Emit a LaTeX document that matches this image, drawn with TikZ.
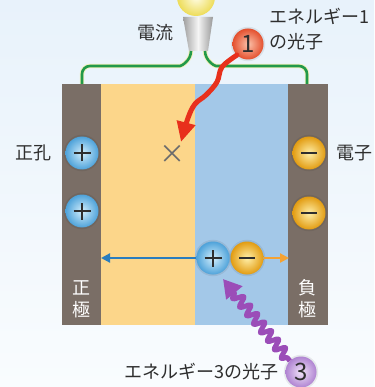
\documentclass[tikz,border=0pt]{standalone}
\usepackage{fontspec}
\setmainfont{Noto Sans CJK JP}
\usetikzlibrary{arrows.meta,decorations.pathmorphing}
\definecolor{bgtop}{HTML}{E8F2FB}
\definecolor{bgbot}{HTML}{F9FCFE}
\definecolor{electrode}{HTML}{7A6E66}
\definecolor{player}{HTML}{FCD68A}
\definecolor{nlayer}{HTML}{A3C8E8}
\definecolor{wire}{HTML}{22994A}
\definecolor{wirehalo}{HTML}{F3F0B8}
\definecolor{ink}{HTML}{2E2E2E}
\definecolor{holein}{HTML}{D2EEFC}
\definecolor{holeout}{HTML}{4FA3DA}
\definecolor{elin}{HTML}{FFEFA8}
\definecolor{elout}{HTML}{E29C12}
\definecolor{redin}{HTML}{FBC2AA}
\definecolor{redout}{HTML}{E4502E}
\definecolor{redwave}{HTML}{E8301C}
\definecolor{purin}{HTML}{F1E4F9}
\definecolor{purout}{HTML}{B084D2}
\definecolor{purwave}{HTML}{9B4DB8}
\definecolor{bluearrow}{HTML}{2A7DBE}
\definecolor{orangearrow}{HTML}{F4A232}
\definecolor{bulbin}{HTML}{FFFDE6}
\definecolor{bulbout}{HTML}{EDDC58}
\begin{document}
\begin{tikzpicture}[x=1pt,y=-1pt,
  every node/.style={text=ink, font=\fontsize{18}{20}\selectfont},
  particle/.style={circle, minimum size=33pt, inner sep=0pt, shading=radial,
    font=\fontsize{24}{24}\selectfont,
    preaction={fill=black, fill opacity=0.07, draw=black, draw opacity=0.07, line width=3.5pt}},
  plussign/.style={path picture={
    \draw[ink, line width=1.7pt] ([xshift=-8.5pt]path picture bounding box.center) -- ([xshift=8.5pt]path picture bounding box.center);
    \draw[ink, line width=1.7pt] ([yshift=-8.5pt]path picture bounding box.center) -- ([yshift=8.5pt]path picture bounding box.center);}},
  minussign/.style={path picture={
    \draw[ink, line width=1.9pt] ([xshift=-8pt]path picture bounding box.center) -- ([xshift=8pt]path picture bounding box.center);}},
  hole/.style={particle, plussign, inner color=holein, outer color=holeout},
  electron/.style={particle, minussign, inner color=elin, outer color=elout},
  photonone/.style={particle, minimum size=31pt, inner color=redin, outer color=redout},
  photonthree/.style={particle, minimum size=31pt, inner color=purin, outer color=purout},
  wirepath/.style={line width=2.6pt, draw=wire},
  halopath/.style={line width=4.4pt, draw=wirehalo},
  electrodetext/.style={text=white, align=center, font=\fontsize{18}{22}\selectfont}
]
% background
\shade[top color=bgtop, bottom color=bgbot] (0,0) rectangle (374,387);
\useasboundingbox (0,0) rectangle (374,387);

% cell layers
\fill[electrode] (62,84) rectangle (101,325);
\fill[player] (101,84) rectangle (195,325);
\fill[nlayer] (195,84) rectangle (288,325);
\fill[electrode] (288,84) rectangle (328,325);

% light bulb
\shade[inner color=bulbin, outer color=bulbout] (196,-3) circle (19);
\shade[left color=gray!75, right color=gray!80, middle color=gray!8]
  (183,17) -- (213,17) -- (208,51) -- (189,51) -- cycle;

% wires from the electrodes to the bulb
\coordinate (lampL) at (191,51);
\coordinate (lampR) at (205,51);
\coordinate (padL) at (82,84);
\coordinate (padR) at (307,84);
\foreach \s in {halopath, wirepath}{
  \draw[\s, rounded corners=8pt] (padL) -- (82,66) -- (172,66) to[out=0, in=-90] (lampL);
  \draw[\s, rounded corners=8pt] (padR) -- (307,66) -- (224,66) to[out=180, in=-90] (lampR);
}
\node (current) at (155,33) {電流};

% photon of energy 1
\node[photonone] (p1) at (248,44) {1};
\node[anchor=west, align=left, font=\fontsize{18}{25}\selectfont] (p1lbl) at (266,29) {エネルギー1\\の光子};
\node[text=gray!85!black, font=\fontsize{26}{26}\selectfont] (cross) at (172,154) {×};
\draw[redwave, line width=5pt, line cap=round, -{Triangle[length=20pt, width=18pt]}]
  plot[smooth, tension=0.6] coordinates {(p1.south west) (222,67) (217,82) (206,95) (195,104) (188,118) (181,142)};

% carriers at the electrodes
\node[hole] (h1) at (82,153) {};
\node[hole] (h2) at (82,211) {};
\node[electron] (e1) at (309,153) {};
\node[electron] (e2) at (309,213) {};
\node[anchor=east] (holelbl) at (55,153) {正孔};
\node[anchor=west] (ellbl) at (333,153) {電子};

% generated pair
\coordinate (leftend) at (101,258);
\coordinate (rightend) at (289,258);
\node[electron] (e3) at (247,258) {};
\node[hole] (h3) at (213,258) {};
\draw[bluearrow, line width=2.2pt, -{Triangle[length=9pt, width=9pt]}] (h3.west) -- (leftend);
\draw[orangearrow, line width=2.2pt, -{Triangle[length=9pt, width=9pt]}] (e3.east) -- (rightend);

% electrode labels
\node[electrodetext] (anode) at (81,299) {正\\極};
\node[electrodetext] (cathode) at (307,299) {負\\極};

% photon of energy 3
\node[photonthree] (p3) at (301,372) {3};
\node[anchor=east] (p3lbl) at (282,372) {エネルギー3の光子};
\coordinate (pairhit) at (223,279);
\draw[purwave, line width=5pt, line join=round, decorate,
  decoration={snake, amplitude=5pt, segment length=11pt, pre length=4pt, post length=14pt},
  -{Triangle[length=18pt, width=20pt]}] (p3.north west) -- (pairhit);
\end{tikzpicture}
\end{document}
